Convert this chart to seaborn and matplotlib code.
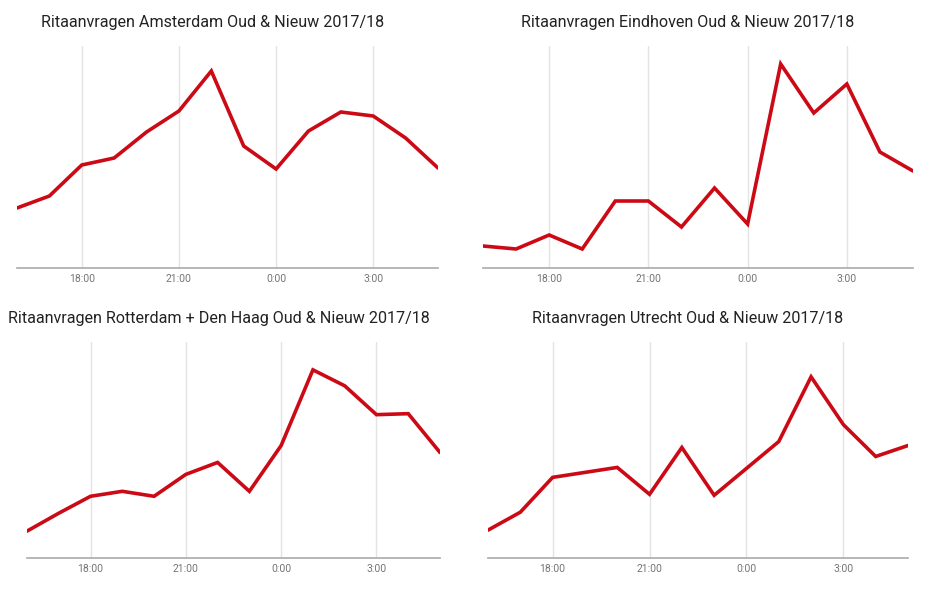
import pandas as pd
import numpy as np
import matplotlib.pyplot as plt
import seaborn as sns

# hours from 16:00 to 5:00
hours = ["16:00", "17:00", "18:00", "19:00", "20:00", "21:00", "22:00",
         "23:00", "0:00", "1:00", "2:00", "3:00", "4:00", "5:00"]
tick_labels = ["18:00", "21:00", "0:00", "3:00"]

# values (relative units, no y axis shown)
amsterdam = [60, 72, 103, 110, 136, 157, 197, 122, 99, 137, 156, 152, 130, 100]
eindhoven = [22, 19, 33, 19, 67, 67, 41, 80, 44, 204, 155, 184, 116, 97]
rotterdam = [27, 45, 62, 67, 62, 84, 96, 67, 113, 189, 173, 144, 145, 106]
utrecht = [28, 46, 81, 86, 91, 64, 111, 63, 90, 117, 182, 134, 102, 113]

titles = ["Ritaanvragen Amsterdam Oud & Nieuw 2017/18",
          "Ritaanvragen Eindhoven Oud & Nieuw 2017/18",
          "Ritaanvragen Rotterdam + Den Haag Oud & Nieuw 2017/18",
          "Ritaanvragen Utrecht Oud & Nieuw 2017/18"]

sns.set_style("white")
plt.rcParams['font.family'] = ['Roboto', 'DejaVu Sans']

W, H = 929, 592
fig = plt.figure(figsize=(W / 100, H / 100), dpi=100)

# pixel boxes: left, right, top, bottom
boxes = [(17, 438, 46, 268), (483, 913, 46, 268),
         (27, 440, 342, 558), (488, 908, 342, 558)]
title_pos = [(213, 22), (688, 22), (219, 319), (688, 319)]
series = [amsterdam, eindhoven, rotterdam, utrecht]
tops = [222, 222, 217, 217]

for i, vals in enumerate(series):
    l, r, t, b = boxes[i]
    ax = fig.add_axes([l / W, 1 - b / H, (r - l) / W, (b - t) / H])
    df = pd.DataFrame({"x": np.arange(len(hours)), "y": vals})
    sns.lineplot(data=df, x="x", y="y", ax=ax, color="#cc0a16",
                 linewidth=2.6, solid_joinstyle="miter")
    ax.set_xlim(0, len(hours) - 1)
    ax.set_ylim(0, tops[i])
    ax.set_xticks([hours.index(h) for h in tick_labels])
    ax.set_xticklabels(tick_labels)
    ax.set_yticks([])
    ax.set_xlabel("")
    ax.set_ylabel("")
    ax.grid(axis="x", color="#e3e3e3", linewidth=1)
    ax.set_axisbelow(True)
    for s in ["top", "right", "left"]:
        ax.spines[s].set_visible(False)
    ax.spines["bottom"].set_color("#aaaaaa")
    ax.spines["bottom"].set_linewidth(1.2)
    ax.tick_params(axis="x", length=0, pad=4, labelsize=7.5, labelcolor="#757575")
    tx, ty = title_pos[i]
    fig.text(tx / W, 1 - ty / H, titles[i], ha="center", va="center",
             fontsize=11.6, color="#222222")

fig.savefig("out.png", dpi=100)
